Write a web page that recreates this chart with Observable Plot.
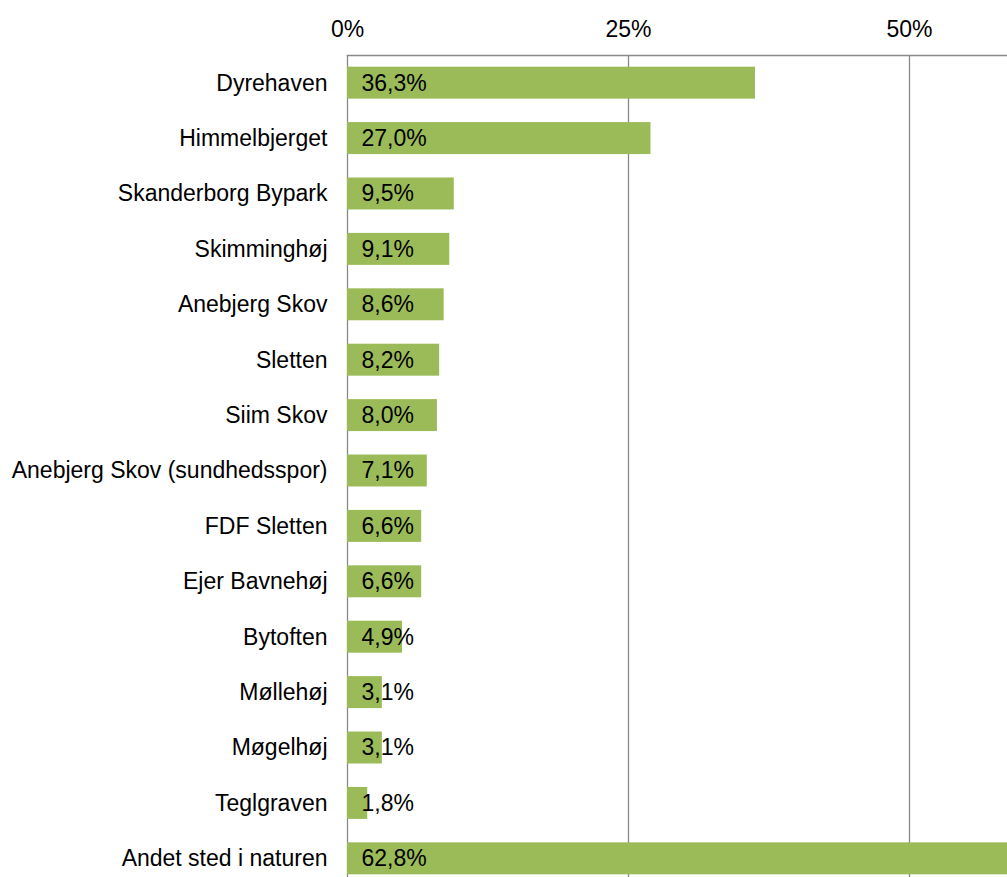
<!DOCTYPE html>
<html>
<head>
<meta charset="utf-8">
<script src="https://cdn.jsdelivr.net/npm/d3@7"></script>
<script src="https://cdn.jsdelivr.net/npm/@observablehq/plot@0.6"></script>
<style>
  html, body { margin: 0; padding: 0; overflow: hidden; background: #fff; }
  #chart svg { display: block; max-width: none !important; height: 886px !important; width: 1200px !important; }
</style>
</head>
<body>
<div id="chart"></div>
<script>
const categories = [
  "Dyrehaven", "Himmelbjerget", "Skanderborg Bypark", "Skimminghøj", "Anebjerg Skov",
  "Sletten", "Siim Skov", "Anebjerg Skov (sundhedsspor)", "FDF Sletten", "Ejer Bavnehøj",
  "Bytoften", "Møllehøj", "Møgelhøj", "Teglgraven", "Andet sted i naturen"
];
const values = [36.3, 27.0, 9.5, 9.1, 8.6, 8.2, 8.0, 7.1, 6.6, 6.6, 4.9, 3.1, 3.1, 1.8, 62.8];
const xTicks = [0, 25, 50];

const data = categories.map((c, i) => ({ name: c, value: values[i] }));
const gray = "#898989";
const fmt = v => v.toFixed(1).replace(".", ",") + "%";

const chart = Plot.plot({
  width: 1200,
  height: 886,
  marginTop: 55,
  marginBottom: 0,
  marginLeft: 347,
  marginRight: 10,
  style: { fontFamily: "Liberation Sans, Arial, sans-serif", fontSize: "23px", color: "#000", background: "#fff", maxWidth: "none" },
  x: { domain: [0, 75], range: [347, 1190], label: null },
  y: { domain: categories, range: [55, 886], paddingInner: 0.423, paddingOuter: 0.211, round: false, label: null },
  marks: [
    Plot.ruleX(xTicks, { stroke: gray, strokeWidth: 1.3 }),
    Plot.frame({ anchor: "top", stroke: gray, strokeWidth: 1.5 }),
    Plot.barX(data, { x: "value", y: "name", fill: "#9BBB59" }),
    Plot.text(data, { x: 0, y: "name", text: d => fmt(d.value), textAnchor: "start", dx: 14, fill: "#000", fontSize: 23 }),
    Plot.axisX(xTicks, { anchor: "top", tickSize: 0, tickPadding: 19, tickFormat: d => d + "%", fontSize: 23, fill: "#000", label: null }),
    Plot.axisY({ anchor: "left", tickSize: 0, tickPadding: 20, fontSize: 23, fill: "#000", label: null })
  ]
});
document.getElementById("chart").appendChild(chart);
</script>
</body>
</html>
